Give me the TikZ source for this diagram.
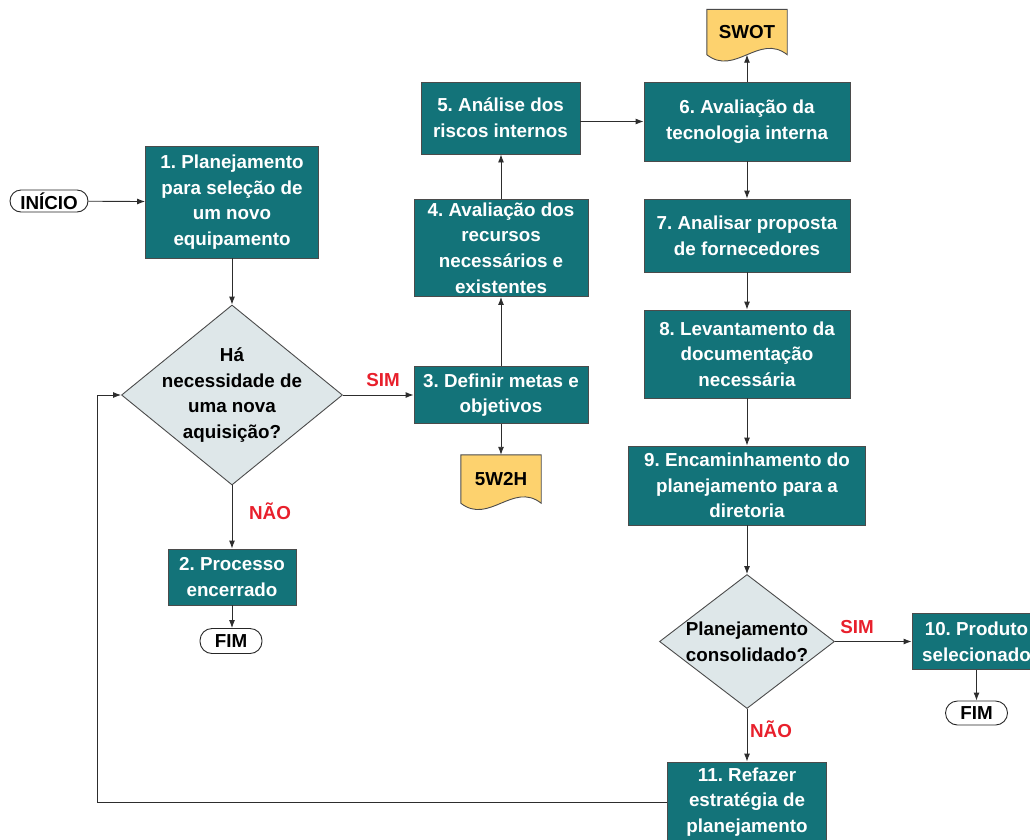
\documentclass[tikz,border=0pt]{standalone}
\usepackage{fontspec}
\setmainfont{Liberation Sans}
\usepackage{xcolor}
\usetikzlibrary{shapes.geometric,arrows.meta,backgrounds}
\definecolor{procteal}{RGB}{19,115,121}
\definecolor{procline}{RGB}{75,75,75}
\definecolor{decfill}{RGB}{222,231,233}
\definecolor{docfill}{RGB}{253,210,110}
\definecolor{answerred}{RGB}{232,32,44}
\definecolor{linkgray}{RGB}{45,45,45}
\frenchspacing

\begin{document}
\begin{tikzpicture}[x=1pt,y=1pt]
\tikzstyle{every node}+=[inner sep=0pt, align=center, font=\fontsize{18.8}{25.7}\selectfont\bfseries]
\tikzstyle{proc}=[draw=procline, fill=procteal, text=white, line width=0.9pt]
\tikzstyle{term}=[draw=black!85, fill=white, line width=0.9pt, rounded corners=12pt]
\tikzstyle{decision}=[diamond, draw=procline, fill=decfill, line width=0.9pt]
\tikzstyle{docline}=[draw=procline, fill=docfill, line width=0.9pt]
\tikzstyle{answer}=[text=answerred]
\tikzstyle{link}=[draw=linkgray, line width=0.9pt, -{Latex[length=8pt,width=6pt]}]
\useasboundingbox (0,0) rectangle (1030,-839);
\node [term, minimum width=78pt, minimum height=22pt, rounded corners=11pt] (ini) at (49,-201) {INÍCIO};
\node [proc, minimum width=173pt, minimum height=112pt] (b1) at (232,-202) {1. Planejamento\\para seleção de\\um novo\\equipamento};
\node [decision, minimum width=221pt, minimum height=180pt, label={[name=q1t]center:Há\\necessidade de\\uma nova\\aquisição?}] (q1) at (232,-395) {};
\node [proc, minimum width=128pt, minimum height=56pt] (b2) at (232,-577) {2. Processo\\encerrado};
\node [term, minimum width=62pt, minimum height=25pt] (fim1) at (231,-641) {FIM};
\node [proc, minimum width=174pt, minimum height=57pt] (b3) at (501,-395) {3. Definir metas e\\objetivos};
\node [minimum width=80pt, minimum height=48pt] (w2h) at (501,-479) {5W2H};
\node [proc, minimum width=174pt, minimum height=97pt] (b4) at (501,-248) {4. Avaliação dos\\recursos\\necessários e\\existentes};
\node [proc, minimum width=159pt, minimum height=72pt] (b5) at (500.5,-118) {5. Análise dos\\riscos internos};
\node [proc, minimum width=206pt, minimum height=79pt] (b6) at (747,-121.5) {6. Avaliação da\\tecnologia interna};
\node [minimum width=80pt, minimum height=45pt] (swot) at (747,-32) {SWOT};
\node [proc, minimum width=206pt, minimum height=73pt] (b7) at (747,-235.5) {7. Analisar proposta\\de fornecedores};
\node [proc, minimum width=206pt, minimum height=88pt] (b8) at (747,-354) {8. Levantamento da\\documentação\\necessária};
\node [proc, minimum width=237pt, minimum height=79pt] (b9) at (747,-485.5) {9. Encaminhamento do\\planejamento para a\\diretoria};
\node [decision, minimum width=175pt, minimum height=134pt, label={[name=q2t]center:Planejamento\\consolidado?}] (q2) at (747,-641.5) {};
\node [proc, minimum width=129pt, minimum height=56pt] (b10) at (976.5,-641.5) {10. Produto\\selecionado};
\node [term, minimum width=62pt, minimum height=24pt] (fim2) at (976.5,-713) {FIM};
\node [proc, minimum width=159pt, minimum height=80pt] (b11) at (747,-802) {11. Refazer\\estratégia de\\planejamento};
\node [answer] (sim1) at (383,-380) {SIM};
\node [answer] (nao1) at (270,-511) {NÃO};
\node [answer] (sim2) at (857,-627) {SIM};
\node [answer] (nao2) at (771,-729) {NÃO};
\coordinate (back) at (97,-802);
\begin{pgfonlayer}{background}
\draw [docline] (w2h.north west) -- (w2h.north east) -- (w2h.south east) .. controls +(-28,22) and +(28,-22) .. (w2h.south west) -- cycle;
\draw [docline] (swot.north west) -- (swot.north east) -- (swot.south east) .. controls +(-28,22) and +(28,-22) .. (swot.south west) -- cycle;
\end{pgfonlayer}
\draw [link] (ini) -- (b1);
\draw [link] (b1) -- (q1);
\draw [link] (q1.east) -- (b3.west);
\draw [link] (q1.south) -- (b2.north);
\draw [link] (b2.south) -- (fim1.north -| b2.south);
\draw [link] (b3.south) -- (w2h.north);
\draw [link] (b3.north) -- (b4.south);
\draw [link] (b4.north) -- (b5.south -| b4.north);
\draw [link] (b5.east |- b6.west) -- (b6.west);
\draw [link] (b6.north) -- (swot.south);
\draw [link] (b6) -- (b7);
\draw [link] (b7) -- (b8);
\draw [link] (b8) -- (b9);
\draw [link] (b9.south) -- (q2.north);
\draw [link] (q2.east) -- (b10.west);
\draw [link] (q2.south) -- (b11.north);
\draw [link] (b10) -- (fim2);
\draw [link] (b11.west) -- (back) |- (q1.west);
\end{tikzpicture}
\end{document}
